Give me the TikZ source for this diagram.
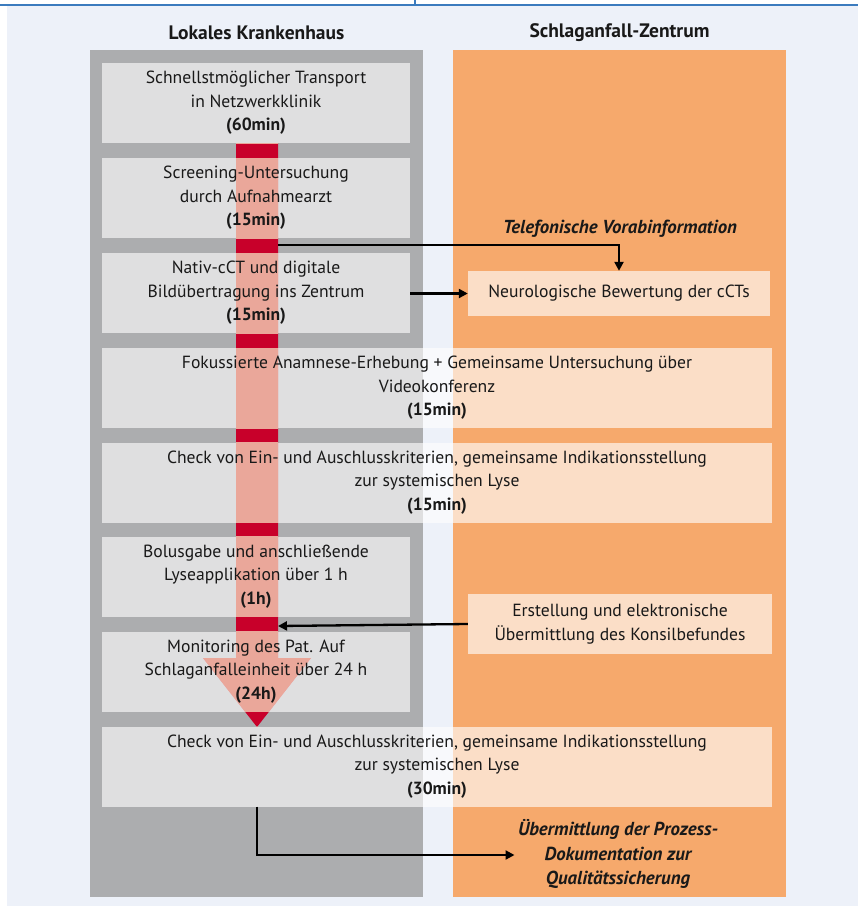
\documentclass[tikz,border=0pt]{standalone}
\usepackage{fontspec}
\setmainfont{PT Sans}
\usetikzlibrary{arrows.meta}
\definecolor{bgc}{HTML}{EDF1F9}
\definecolor{graycol}{HTML}{ACADAF}
\definecolor{orangecol}{HTML}{F6A96C}
\definecolor{redc}{HTML}{C8002A}
\definecolor{salmon}{HTML}{EAA79A}
\definecolor{bluec}{HTML}{3B7BBE}
\tikzset{
  stepbox/.style={rectangle, fill=white, fill opacity=0.62, text opacity=1, align=center, inner sep=0pt,
    font=\fontsize{17.6}{23.5}\selectfont, text=black!90,
    path picture={\fill[salmon, fill opacity=1] (a1) -- (a2) -- (a3) -- (a4) -- (a5) -- (a6) -- (a7) -- cycle;}},
  narrowbox/.style={stepbox, minimum width=308pt, minimum height=80pt},
  widebox/.style={stepbox, minimum width=670pt, minimum height=80pt},
  coltitle/.style={font=\fontsize{19.5}{22}\selectfont\bfseries, text=black!90},
  notelabel/.style={font=\fontsize{18.8}{24.5}\selectfont\bfseries\itshape, align=center, text=black!90},
  conn/.style={draw=black, line width=2.3pt, -{Triangle[length=9pt,width=9pt]}}
}
\begin{document}
\begin{tikzpicture}[x=1pt,y=-1pt]
\useasboundingbox (0,0) rectangle (858,906);
% background and header line
\fill[bgc] (7,6) rectangle (858,906);
\fill[bluec] (0,3.5) rectangle (858,6);
\fill[bluec] (414,0) rectangle (416,5);
% columns
\fill[graycol] (90,50) rectangle (423,897);
\fill[orangecol] (453,50) rectangle (786,897);
\node[coltitle] (tl) at (256.5,33) {Lokales Krankenhaus};
\node[coltitle] (tr) at (619.5,33) {Schlaganfall-Zentrum};
% red flow arrow
\coordinate (a1) at (236,143);
\coordinate (a2) at (278,143);
\coordinate (a3) at (278,658);
\coordinate (a4) at (311,658);
\coordinate (a5) at (257,727);
\coordinate (a6) at (203,658);
\coordinate (a7) at (236,658);
\fill[redc] (a1) -- (a2) -- (a3) -- (a4) -- (a5) -- (a6) -- (a7) -- cycle;
\coordinate (s1) at (278,245);
\coordinate (s2) at (278,626);
% boxes
\node[narrowbox] (b1) at (256,103) {Schnellstmöglicher Transport\\in Netzwerkklinik\\\textbf{(60min)}};
\node[narrowbox] (b2) at (256,198) {Screening-Untersuchung\\durch Aufnahmearzt\\\textbf{(15min)}};
\node[narrowbox] (b3) at (256,293) {Nativ-cCT und digitale\\Bildübertragung ins Zentrum\\\textbf{(15min)}};
\node[widebox] (b4) at (437,388) {Fokussierte Anamnese-Erhebung + Gemeinsame Untersuchung über\\Videokonferenz\\\textbf{(15min)}};
\node[widebox] (b5) at (437,482.5) {Check von Ein- und Auschlusskriterien, gemeinsame Indikationsstellung\\zur systemischen Lyse\\\textbf{(15min)}};
\node[narrowbox] (b6) at (256,576.5) {Bolusgabe und anschließende\\Lyseapplikation über 1 h\\\textbf{(1h)}};
\node[narrowbox] (b7) at (256,671.5) {Monitoring des Pat. Auf\\Schlaganfalleinheit über 24 h\\\textbf{(24h)}};
\node[widebox] (b8) at (437,766.5) {Check von Ein- und Auschlusskriterien, gemeinsame Indikationsstellung\\zur systemischen Lyse\\\textbf{(30min)}};
\node[stepbox, minimum width=302pt, minimum height=45pt] (n1) at (619,293.5) {Neurologische Bewertung der cCTs};
\node[stepbox, minimum width=304pt, minimum height=60pt] (n2) at (620,624) {Erstellung und elektronische\\Übermittlung des Konsilbefundes};
% labels
\node[notelabel] (tel) at (620,229) {Telefonische Vorabinformation};
\node[notelabel] (doc) at (618,854) {Übermittlung der Prozess-\\Dokumentation zur\\Qualitätssicherung};
% connectors
\draw[conn] (s1) -| (n1.north);
\draw[conn] (b3.east |- n1.west) -- (n1.west);
\draw[conn] (n2.west) -- (s2);
\draw[conn] (b8.south -| 257,0) |- (doc.west |- 0,855);
\end{tikzpicture}
\end{document}
